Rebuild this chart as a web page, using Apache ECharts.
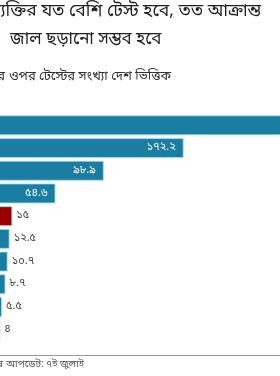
<!DOCTYPE html>
<html>
<head>
<meta charset="utf-8">
<script src="https://cdn.jsdelivr.net/npm/echarts@6/dist/echarts.min.js"></script>
<style>
html,body{margin:0;padding:0;background:#fff;}
#main{width:280px;height:376px;}
</style>
</head>
<body>
<div id="main"></div>
<script>
// প্রতি হাজার জনসংখ্যায় টেস্ট - দেশের নাম ছবিতে কাটা পড়েছে
var countries = ['দেশ ১', 'দেশ ২', 'দেশ ৩', 'দেশ ৪', 'দেশ ৫', 'দেশ ৬', 'দেশ ৭', 'দেশ ৮', 'দেশ ৯', 'দেশ ১০'];
var tests = [290, 172.2, 98.9, 54.6, 15, 12.5, 10.7, 8.7, 5.5, 4];
var highlight = [4];

var FONT = '"Noto Sans Bengali", "Noto Sans", sans-serif';
var bnDigits = '০১২৩৪৫৬৭৮৯';
function toBn(v) {
    return String(v).replace(/[0-9]/g, function (d) { return bnDigits[+d]; });
}

var barData = tests.map(function (v, i) {
    var inside = v > 30;
    return {
        value: v,
        itemStyle: { color: highlight.indexOf(i) >= 0 ? '#9a0000' : '#1a7da2' },
        label: {
            position: inside ? 'insideRight' : 'right',
            distance: inside ? 8 : 4,
            color: inside ? '#ffffff' : '#444444'
        }
    };
});

// লেখা বসানো (ছবির বাঁ দিক কাটা)
function txt(x, y, s, font, color, align) {
    return {
        type: 'text', x: x, y: y,
        style: { text: s, font: font, fill: color, align: align || 'left', verticalAlign: 'top' }
    };
}

var myChart = echarts.init(document.getElementById('main'));

var option = {
    backgroundColor: '#fff',
    animation: false,
    grid: {
        left: -4,
        width: 327,
        top: 114,
        bottom: 35,
        containLabel: false,
        outerBoundsMode: 'none'
    },
    xAxis: {
        type: 'value',
        min: 0,
        max: 300,
        show: false
    },
    yAxis: {
        type: 'category',
        data: countries,
        inverse: true,
        axisLine: { show: false },
        axisTick: { show: false },
        axisLabel: { show: false }
    },
    series: [{
        type: 'bar',
        data: barData,
        barWidth: 20,
        itemStyle: {
            borderColor: 'rgba(170,220,235,0.8)',
            borderWidth: 1
        },
        label: {
            show: true,
            fontFamily: FONT,
            fontSize: 11,
            formatter: function (p) { return toBn(p.value); }
        }
    }],
    graphic: [
        txt(261, 4, 'প্রতি ব্যক্তির যত বেশি টেস্ট হবে, তত আক্রান্ত', '17.5px ' + FONT, '#222', 'right'),
        txt(10, 32, 'জাল ছড়ানো সম্ভব হবে', '17px ' + FONT, '#222'),
        txt(5, 71, 'প্রতি হাজার জনসংখ্যার', '13px ' + FONT, '#333', 'right'),
        txt(9, 71, 'ওপর টেস্টের সংখ্যা দেশ ভিত্তিক', '13px ' + FONT, '#333'),
        {
            type: 'line',
            shape: { x1: 0, y1: 355.5, x2: 280, y2: 355.5 },
            style: { stroke: '#999', lineWidth: 1 }
        },
        txt(3, 360, 'সর্বশেষ', '10px ' + FONT, '#555', 'right'),
        txt(6, 360, 'আপডেট: ৭ই জুলাই', '10px ' + FONT, '#555')
    ]
};
myChart.setOption(option);
</script>
</body>
</html>
